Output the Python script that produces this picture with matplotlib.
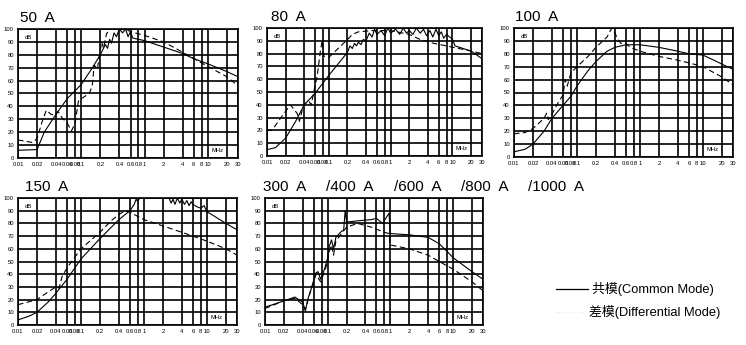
import matplotlib.pyplot as plt
import numpy as np

plt.rcParams['font.family'] = ['Liberation Sans', 'Noto Sans CJK SC', 'DejaVu Sans']

# frequency grid (MHz) and tick labels
grid_f = [0.01, 0.02, 0.04, 0.06, 0.08, 0.1, 0.2, 0.4, 0.6, 0.8, 1, 2, 4, 6, 8, 10, 20, 30]
grid_lbl = ['0.01', '0.02', '0.04', '0.06', '0.08', '0.1', '0.2', '0.4', '0.6', '0.8', '1',
            '2', '4', '6', '8', '10', '20', '30']
db_ticks = [0, 10, 20, 30, 40, 50, 60, 70, 80, 90, 100]

titles = ['50  A', '80  A', '100  A', '150  A', None]
title_5 = ['300  A', '/400  A', '/600  A', '/800  A', '/1000  A']
title_5_x = [263, 326, 394, 461, 528]

# 50 A
f50_cm = [0.01, 0.02, 0.026, 0.04, 0.06, 0.1, 0.15, 0.2, 0.24, 0.26, 0.28, 0.3, 0.33, 0.36,
          0.4, 0.45, 0.5, 0.55, 0.6, 0.65, 0.8, 1, 2, 4, 6, 10, 20, 30]
d50_cm = [6, 6.5, 20, 34, 46, 57, 70, 80, 88, 85, 92, 89, 97, 94,
          100, 97, 100, 94, 98, 93, 92, 91, 86, 81, 77, 73, 67, 63]
f50_dm = [0.01, 0.017, 0.02, 0.024, 0.028, 0.033, 0.038, 0.043, 0.05, 0.06, 0.07, 0.08, 0.09,
          0.1, 0.134, 0.149, 0.16, 0.18, 0.19, 0.21, 0.225, 0.25, 0.28, 0.4, 0.5, 0.6, 0.7,
          1, 2, 4, 10, 20, 30]
d50_dm = [14, 12, 15, 28, 37, 34, 33, 36, 31, 27, 21, 27, 44,
          46, 50, 56, 72, 69, 77, 90, 85, 96, 100, 100, 100, 98, 97,
          95, 90, 82, 71, 63, 56]

# 80 A
f80_cm = [0.01, 0.0137, 0.02, 0.029, 0.04, 0.06, 0.1, 0.2, 0.22, 0.24, 0.26, 0.28, 0.3, 0.33,
          0.36, 0.4, 0.45, 0.5, 0.55, 0.6, 0.7, 0.8, 0.9, 1, 1.2, 1.4, 1.6, 1.8, 2, 2.3, 2.6,
          3, 3.4, 3.8, 4.3, 4.8, 5.4, 6, 6.6, 7.2, 8, 9, 10, 11, 20, 30]
d80_cm = [5, 6.5, 14, 27, 40, 49, 63, 81, 86, 84, 88, 86, 89, 87,
          91, 90, 96, 93, 99, 95, 98, 94, 100, 96, 99, 95, 100, 96, 98, 95, 100,
          96, 99, 94, 98, 93, 99, 94, 97, 92, 95, 93, 91, 86, 82, 76]
f80_dm = [0.01, 0.012, 0.018, 0.024, 0.031, 0.0334, 0.039, 0.047, 0.052, 0.057, 0.065, 0.073,
          0.078, 0.083, 0.1, 0.2, 0.24, 0.3, 0.5, 1, 2, 3, 5, 8, 10, 20, 30]
d80_dm = [20, 20, 32, 40, 33, 27, 40, 43, 40, 50, 63, 82,
          90, 78, 77, 91, 95, 97, 98, 98, 95, 91, 88, 86, 85, 82, 80]

# 100 A
f100_cm = [0.01, 0.015, 0.02, 0.03, 0.04, 0.06, 0.08, 0.1, 0.15, 0.2, 0.3, 0.4, 0.6, 1, 2, 4,
           6, 10, 15, 20, 30]
d100_cm = [4, 6, 10, 20, 30, 40, 47, 55, 67, 74, 82, 85, 87, 87, 85, 82, 80, 79, 75, 72, 68]
f100_dm = [0.01, 0.015, 0.02, 0.03, 0.033, 0.035, 0.04, 0.045, 0.05, 0.06, 0.065, 0.07, 0.08,
           0.1, 0.15, 0.2, 0.3, 0.33, 0.36, 0.4, 0.45, 0.5, 0.6, 0.7, 1, 2, 4, 6, 10, 20, 30]
d100_dm = [18, 19, 22, 30, 34, 29, 33, 38, 42, 48, 60, 55, 65,
           70, 78, 85, 93, 97, 100, 96, 91, 88, 88, 85, 82, 78, 75, 73, 70, 62, 56]

# 150 A
f150_cm = [0.01, 0.015, 0.02, 0.03, 0.04, 0.06, 0.08, 0.1, 0.2, 0.4, 0.6, 0.7, 0.75, 0.8, 0.85,
           1, 2, 2.5, 2.7, 2.9, 3.1, 3.4, 3.7, 4, 4.4, 4.8, 5.2, 5.6, 6, 7, 8, 9, 10, 11, 20, 30]
d150_cm = [4, 7, 10, 18, 25, 36, 45, 52, 68, 83, 90, 95, 99, 97, 100,
           100, 100, 100, 96, 99, 95, 100, 96, 99, 95, 98, 94, 97, 95, 93, 92, 94, 89, 88, 80, 75]
f150_dm = [0.01, 0.02, 0.03, 0.04, 0.045, 0.05, 0.06, 0.1, 0.2, 0.3, 0.4, 0.5, 0.6, 0.7, 1, 2,
           4, 6, 10, 20, 30]
d150_dm = [16, 20, 26, 30, 29, 38, 45, 60, 73, 82, 87, 90, 89, 87, 83, 78, 73, 70, 66, 60, 55]

# 300 A ~ 1000 A
f300_cm = [0.01, 0.02, 0.03, 0.04, 0.044, 0.048, 0.055, 0.065, 0.07, 0.077, 0.089, 0.1, 0.106,
           0.115, 0.124, 0.135, 0.16, 0.18, 0.19, 0.2, 0.3, 0.5, 0.6, 0.75, 0.95, 1.0,
           2, 4, 6, 8, 10, 20, 30]
d300_cm = [14, 19, 22, 18, 11, 20, 29, 41, 42, 36, 44, 53, 62,
           67, 60, 69, 73, 75, 90, 81, 82, 83, 84, 80, 88, 72,
           71, 69, 64, 58, 53, 42, 36]
f300_dm = [0.01, 0.02, 0.03, 0.04, 0.044, 0.05, 0.055, 0.065, 0.077, 0.089, 0.1, 0.106, 0.115,
           0.124, 0.135, 0.16, 0.2, 0.3, 0.5, 0.8, 0.95, 1.0, 2, 4, 6, 10, 20, 30]
d300_dm = [13, 19, 21, 16, 12, 22, 29, 40, 34, 42, 50, 58, 63,
           55, 66, 71, 77, 80, 77, 73, 72, 63, 60, 55, 50, 44, 34, 27]

curves = [(f50_cm, d50_cm, f50_dm, d50_dm),
          (f80_cm, d80_cm, f80_dm, d80_dm),
          (f100_cm, d100_cm, f100_dm, d100_dm),
          (f150_cm, d150_cm, f150_dm, d150_dm),
          (f300_cm, d300_cm, f300_dm, d300_dm)]

# axes boxes in pixels: left, top, right, bottom
W, H = 746, 345
boxes = [(18, 29, 238, 158), (267, 28, 482, 156), (514, 28, 733, 157),
         (18, 198, 237, 325), (265, 198, 483, 325)]
title_x = [20, 271, 515, 25]

fig = plt.figure(figsize=(W / 100, H / 100), dpi=100)

for i, ((l, t, r, b), (fc, dc, fd, dd)) in enumerate(zip(boxes, curves)):
    ax = fig.add_axes([l / W, 1 - b / H, (r - l) / W, (b - t) / H])
    ax.set_xscale('log')
    ax.set_xlim(0.01, 30)
    ax.set_ylim(0, 100)
    ax.set_xticks(grid_f)
    ax.set_xticklabels(grid_lbl)
    ax.minorticks_off()
    ax.set_yticks(db_ticks)
    ax.tick_params(length=0, labelsize=4.2, pad=3)
    ax.grid(True, color='black', linewidth=1.2)
    for s in ax.spines.values():
        s.set_linewidth(1.2)
    ax.plot(fc, dc, color='black', linewidth=0.8)
    ax.plot(fd, dd, color='black', linewidth=0.8, linestyle=(0, (5, 3)))
    ax.text(0.03, 0.955, 'dB', transform=ax.transAxes, fontsize=4.2, va='top', ha='left')
    ax.text(0.935, 0.04, 'MHz', transform=ax.transAxes, fontsize=4.2, va='bottom', ha='right')
    if titles[i] is not None:
        fig.text(title_x[i] / W, 1 - (t - 11) / H, titles[i], fontsize=11, va='center', ha='left')
    else:
        for txt, x in zip(title_5, title_5_x):
            fig.text(x / W, 1 - (t - 11) / H, txt, fontsize=11, va='center', ha='left')

# legend
fig.add_artist(plt.Line2D([556 / W, 588 / W], [1 - 289 / H, 1 - 289 / H], color='black', linewidth=0.9))
fig.add_artist(plt.Line2D([556 / W, 586 / W], [1 - 312 / H, 1 - 312 / H], color='#f2f2f2',
                          linewidth=0.9, linestyle=(0, (4, 2))))
fig.text(592 / W, 1 - 289 / H, '共模(Common Mode)', fontsize=9.3, va='center', ha='left')
fig.text(589 / W, 1 - 312 / H, '差模(Differential Mode)', fontsize=9.3, va='center', ha='left')

fig.savefig('out.png', dpi=100)
